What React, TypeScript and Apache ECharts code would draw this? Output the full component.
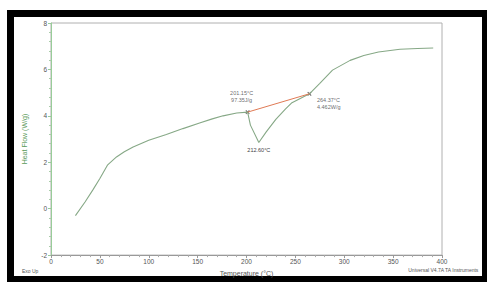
import React, { useEffect, useRef } from "react";
import * as echarts from "echarts";

const temps = [25, 35, 43, 50, 58, 67, 75, 84, 100, 118, 135, 152, 165, 176, 190, 201.15, 204, 212.6, 220, 230, 240, 246, 255, 264.37, 275, 288, 306, 320, 335, 357, 375, 391];
const heatFlow = [-0.3, 0.3, 0.82, 1.3, 1.89, 2.23, 2.45, 2.66, 2.95, 3.2, 3.45, 3.69, 3.87, 4.0, 4.12, 4.16, 3.6, 2.85, 3.3, 3.85, 4.3, 4.55, 4.75, 4.95, 5.4, 5.97, 6.39, 6.6, 6.75, 6.87, 6.9, 6.92];
const baselineT = [201.15, 264.37];
const baselineV = [4.16, 4.95];
const onsetLabel = "201.15°C\n97.35J/g";
const endLabel = "264.37°C\n4.462W/g";
const peakT = 212.6;
const peakV = 2.85;
const peakLabel = "212.60°C";
const xTicks = [0, 400, 50];
const yTicks = [-2, 8, 2];

export default function App() {
  const ref = useRef<HTMLDivElement>(null);
  useEffect(() => {
    if (!ref.current) return;
    const chart = echarts.init(ref.current, null, { renderer: "svg" });
    const crossSym = "path://M4,0H6V4H10V6H6V10H4V6H0V4H4Z";
    chart.setOption({
      animation: false,
      textStyle: { fontFamily: "Liberation Sans, Arial, sans-serif" },
      grid: { left: 51, top: 23, right: 45, bottom: 26, show: true, borderColor: "#b0b0b0", borderWidth: 1 },
      xAxis: {
        type: "value",
        min: xTicks[0],
        max: xTicks[1],
        interval: xTicks[2],
        name: "Temperature (°C)",
        nameLocation: "middle",
        nameGap: 12,
        nameTextStyle: { fontSize: 7, color: "#555" },
        axisLine: { onZero: false, lineStyle: { color: "#999" } },
        axisTick: { length: 3, lineStyle: { color: "#999" } },
        minorTick: { show: true, splitNumber: 5, length: 2, lineStyle: { color: "#aaa" } },
        axisLabel: { fontSize: 6.5, color: "#555", margin: 3 },
        splitLine: { show: false },
      },
      yAxis: {
        type: "value",
        min: yTicks[0],
        max: yTicks[1],
        interval: yTicks[2],
        name: "Heat Flow (W/g)",
        nameLocation: "middle",
        nameGap: 23,
        nameTextStyle: { fontSize: 7, color: "#5a9a5a" },
        axisLine: { onZero: false, lineStyle: { color: "#9c9" } },
        axisTick: { length: 3, lineStyle: { color: "#9c9" } },
        minorTick: { show: true, splitNumber: 5, length: 2, lineStyle: { color: "#aca" } },
        axisLabel: { fontSize: 6.5, color: "#555", margin: 4 },
        splitLine: { show: false },
      },
      series: [
        {
          type: "line",
          data: temps.map((t, i) => [t, heatFlow[i]]),
          showSymbol: false,
          lineStyle: { color: "#86a886", width: 1.1 },
          markPoint: {
            symbol: "circle",
            symbolSize: 0,
            data: [
              {
                coord: [peakT, peakV],
                label: { show: true, formatter: peakLabel, position: "bottom", distance: 4, fontSize: 5.5, color: "#444" },
              },
            ],
          },
        },
        {
          type: "line",
          data: baselineT.map((t, i) => [t, baselineV[i]]),
          showSymbol: false,
          lineStyle: { color: "#e07a55", width: 1 },
        },
        {
          type: "scatter",
          symbol: crossSym,
          symbolSize: 5,
          symbolRotate: 45,
          itemStyle: { color: "#444" },
          data: [
            {
              value: [baselineT[0], baselineV[0]],
              label: { show: true, formatter: onsetLabel, position: "top", offset: [-6, 0], fontSize: 5.5, lineHeight: 7, color: "#444", align: "center" },
            },
            {
              value: [baselineT[1], baselineV[1]],
              label: { show: true, formatter: endLabel, position: "right", offset: [-1, 10], fontSize: 5.5, lineHeight: 7, color: "#444" },
            },
          ],
        },
      ],
      graphic: [
        { type: "text", left: 22, top: 268, style: { text: "Exo Up", fontSize: 5, fill: "#555" } },
        { type: "text", right: 8, top: 267, style: { text: "Universal V4.7A TA Instruments", fontSize: 5, fill: "#555" } },
      ],
    });
    return () => chart.dispose();
  }, []);
  return (
    <div style={{ position: "absolute", left: 0, top: 0, width: 487, height: 282, background: "#fff" }}>
      <div style={{ position: "absolute", left: 7, top: 10, width: 480, height: 272, background: "#000" }} />
      <div style={{ position: "absolute", left: 14, top: 17, width: 468, height: 259, background: "#fff" }} />
      <div ref={ref} style={{ position: "absolute", left: 0, top: 0, width: 487, height: 282 }} />
    </div>
  );
}
